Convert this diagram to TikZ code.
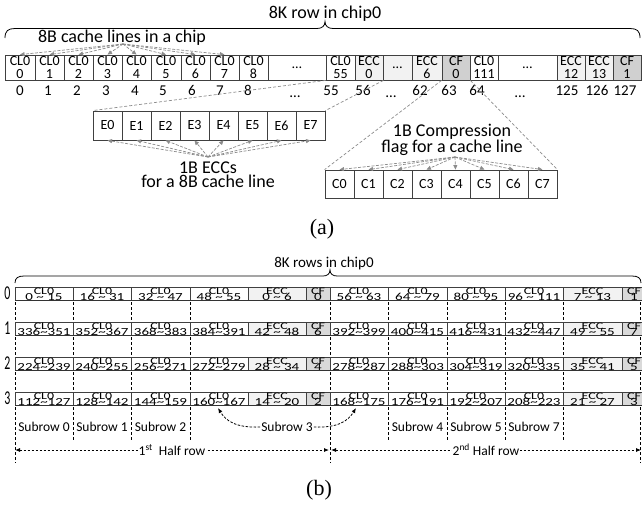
\documentclass[tikz,border=0pt]{standalone}
\usepackage{fontspec}
\usepackage{graphicx}
\setmainfont{Carlito}
\newfontfamily\seriffont{Liberation Serif}
\usetikzlibrary{arrows.meta}
\definecolor{eccfill}{HTML}{F2F2F2}
\definecolor{cffill}{HTML}{D9D9D9}
\definecolor{cfafill}{HTML}{D0D0D0}
\definecolor{zoomgray}{HTML}{8C8C8C}
\newcommand\mytilde{\textasciitilde}
\newcommand\sq[1]{\scalebox{1}[0.72]{#1}}
\tikzset{
  acell/.style={draw=black!75, line width=0.8pt, minimum height=25pt, inner sep=0pt, align=center, font=\fontsize{14}{12.5}\selectfont},
  idx/.style={anchor=base, inner sep=0pt, font=\fontsize{15}{15}\selectfont},
  biglab/.style={inner sep=0pt, align=center, font=\fontsize{18}{11}\selectfont},
  bracepath/.style={draw=black, line width=0.8pt},
  zoomline/.style={draw=zoomgray, line width=0.7pt, dash pattern=on 3pt off 2pt},
  garrow/.style={draw=zoomgray, line width=0.7pt, dash pattern=on 3pt off 1.5pt, -{Triangle[length=4.5pt,width=4pt,fill=zoomgray]}},
  bcell/.style={draw=black!75, line width=0.8pt, minimum height=13.5pt, inner sep=0pt},
  btop/.style={anchor=base, inner sep=0pt, font=\fontsize{14}{14}\selectfont},
  bnum/.style={anchor=base, inner sep=0pt, font=\fontsize{15}{15}\selectfont},
  rowlab/.style={inner sep=0pt, font=\fontsize{14}{14}\selectfont},
  sublab/.style={inner sep=1pt, font=\fontsize{13.5}{13.5}\selectfont},
  vdash/.style={draw=black, line width=0.8pt, dash pattern=on 3pt off 2pt},
  bdarrow/.style={draw=black, line width=0.8pt, dash pattern=on 2.5pt off 1.5pt},
  tipb/.style={-{Latex[length=5pt,width=4pt]}},
}
\newcommand\brow[3]{% #1 top y, #2 row label, #3 list of 12 numbers
  \foreach \num [count=\i] in {#3} {
    \pgfmathsetmacro\xl{{15,73,131,190,248,306,330,388,447,505,563,622}[\i-1]}
    \pgfmathsetmacro\xr{{73,131,190,248,306,330,388,447,505,563,622,646}[\i-1]}
    \pgfmathtruncatemacro\kind{mod(\i-1,6)}
    \ifnum\kind<4 \def\up{CL0}\def\fc{white}\else
      \ifnum\kind=4 \def\up{ECC}\def\fc{eccfill}\else \def\up{CF}\def\fc{cffill}\fi\fi
    \node[bcell, fill=\fc, minimum width={(\xr-\xl)*1pt}] (c#2-\i) at ({(\xl+\xr)/2},{#1+6.75}) {};
    \node[btop] (u#2-\i) at ({(\xl+\xr)/2},{#1+7.2}) {\sq{\up}};
    \node[bnum] (v#2-\i) at ({(\xl+\xr)/2},{#1+13}) {\sq{\num}};
  }
  \draw[line width=1.6pt, black!80] (15,{#1+13.5}) -- (646,{#1+13.5});
  \node[rowlab] (rl#2) at (7.5,{#1+6.5}) {\scalebox{0.85}[1.4]{#2}};
}
\begin{document}
\begin{tikzpicture}[x=1pt,y=-1pt]
\useasboundingbox (0,0) rectangle (642,506);
\fill[white] (0,0) rectangle (642,506);

% ---------------- (a) ----------------
\node[idx, font=\fontsize{18}{18}\selectfont] (titleA) at (325,18) {8K row in chip0};
\draw[bracepath] (5,38) .. controls (5,31) and (8,28.5) .. (15,28.5) -- (317,28.5)
  .. controls (322,28.5) and (325,26) .. (325,21.5)
  .. controls (325,26) and (328,28.5) .. (333,28.5) -- (630,28.5)
  .. controls (637,28.5) and (640,31) .. (640,38);
\node[idx, font=\fontsize{18}{18}\selectfont] (cl8) at (122,42) {8B cache lines in a chip};

\foreach \xl/\xr/\txt/\fc [count=\i] in {
5/35/{CL0\\0}/white, 35/64/{CL0\\1}/white, 64/93/{CL0\\2}/white,
93/122/{CL0\\3}/white, 122/151/{CL0\\4}/white, 151/181/{CL0\\5}/white,
181/210/{CL0\\6}/white, 210/239/{CL0\\7}/white, 239/268/{CL0\\8}/white,
268/326/{\ldots}/white, 326/355/{CL0\\55}/white, 355/383/{ECC\\0}/eccfill,
383/412/{\ldots}/eccfill, 412/442/{ECC\\6}/eccfill, 442/470/{CF\\0}/cfafill,
470/498/{CL0\\111}/white, 498/557/{\ldots}/white, 557/585/{ECC\\12}/eccfill,
585/613/{ECC\\13}/eccfill, 613/641/{CF\\1}/cfafill}
  \node[acell, fill=\fc, minimum width={(\xr-\xl)*1pt}] (a\i) at ({(\xl+\xr)/2},67.5) {\txt};

\foreach \x/\txt [count=\i] in {20/0,48/1,77/2,106/3,135/4,163/5,192/6,220/7,248/8,
  331/55,363/56,420/62,449/63,477/64,567/125,597/126,625/127}
  \node[idx] (n\i) at (\x,95) {\txt};
\node[idx] (nd1) at (295,97) {\ldots};
\node[idx] (nd2) at (391,97) {\ldots};
\node[idx] (nd3) at (520,97) {\ldots};

\coordinate (srcA) at (123,44);
\foreach \k in {1,...,8} \draw[garrow] (srcA) -- (a\k.north);

% ECC box
\foreach \k in {0,...,7}
  \node[acell, minimum width=29pt, minimum height=29pt] (e\k) at ({107.5+29*\k},125.5) {E\k};
\node[biglab] (ecclab) at (208,174.7) {1B ECCs\\for a 8B cache line};
\coordinate (srcE) at (208,157);
\foreach \k in {0,...,7} \draw[garrow] (srcE) -- (e\k.south);

% CF box
\foreach \k in {0,...,7}
  \node[acell, minimum width=29pt, minimum height=28pt] (f\k) at ({339.5+29*\k},184) {C\k};
\node[biglab, font=\fontsize{18}{12}\selectfont] (cflab) at (452,140) {1B Compression\\flag for a cache line};
\coordinate (srcC) at (455,157);
\foreach \k in {0,...,7} \draw[garrow] (srcC) -- (f\k.north);

% zoom lines
\draw[zoomline] (a11.south west) -- (e0.north west);
\draw[zoomline] (a12.south east) -- (e7.north east);
\draw[zoomline] (a15.south west) -- (f0.north west);
\draw[zoomline] (a15.south east) -- (f7.north east);

\node[inner sep=0pt, font=\seriffont\fontsize{22}{22}\selectfont] (capa) at (322,229) {(a)};

% ---------------- (b) ----------------
\node[idx] (titleB) at (324,267) {8K rows in chip0};
\draw[bracepath] (15,283) .. controls (15,278) and (18,276) .. (24,276) -- (323,276)
  .. controls (327,276) and (330,274) .. (330,270)
  .. controls (330,274) and (333,276) .. (337,276) -- (632,276)
  .. controls (638,276) and (641,278) .. (641,283);

\foreach \x in {15,330,640} \draw[vdash] (\x,287) -- (\x,463);
\foreach \x in {73,131,190,388,447,505,563} \draw[vdash] (\x,287) -- (\x,440);

\brow{287}{0}{{0 \mytilde{} 15},{16 \mytilde{} 31},{32 \mytilde{} 47},{48 \mytilde{} 55},{0 \mytilde{} 6},0,
  {56 \mytilde{} 63},{64 \mytilde{} 79},{80 \mytilde{} 95},{96 \mytilde{} 111},{7 \mytilde{} 13},1}
\brow{322}{1}{336\mytilde351,352\mytilde367,368\mytilde383,384\mytilde391,{42 \mytilde{} 48},6,
  392\mytilde399,400\mytilde415,416\mytilde431,432\mytilde447,{49 \mytilde{} 55},7}
\brow{357}{2}{224\mytilde239,240\mytilde255,256\mytilde271,272\mytilde279,{28 \mytilde{} 34},4,
  278\mytilde287,288\mytilde303,304\mytilde319,320\mytilde335,{35 \mytilde{} 41},5}
\brow{392}{3}{112\mytilde127,128\mytilde142,144\mytilde159,160\mytilde167,{14 \mytilde{} 20},2,
  168\mytilde175,176\mytilde191,192\mytilde207,208\mytilde223,{21 \mytilde{} 27},3}

\node[sublab] (s0) at (44,427) {Subrow 0};
\node[sublab] (s1) at (102,427) {Subrow 1};
\node[sublab] (s2) at (160.5,427) {Subrow 2};
\node[sublab] (s3) at (287,427) {Subrow 3};
\node[sublab] (s4) at (417.5,427) {Subrow 4};
\node[sublab] (s5) at (476,427) {Subrow 5};
\node[sublab] (s7) at (534,427) {Subrow 7};
\coordinate (t3a) at (218,408);
\coordinate (t3b) at (356,408);
\draw[bdarrow, tipb] (s3.west) .. controls (236,428) and (226,421) .. (t3a);
\draw[bdarrow, tipb] (s3.east) .. controls (338,428) and (348,421) .. (t3b);

\coordinate (h1l) at (15,450);
\coordinate (h1r) at (329,450);
\coordinate (h2l) at (331,450);
\coordinate (h2r) at (641,450);
\draw[bdarrow, {Latex[length=5pt,width=4pt]}-{Latex[length=5pt,width=4pt]}] (h1l) -- (h1r);
\draw[bdarrow, {Latex[length=5pt,width=4pt]}-{Latex[length=5pt,width=4pt]}] (h2l) -- (h2r);
\node[sublab, fill=white] (hr1) at (172,450) {1\textsuperscript{st}\ \ Half row};
\node[sublab, fill=white] (hr2) at (486,450) {2\textsuperscript{nd}\ Half row};

\node[inner sep=0pt, font=\seriffont\fontsize{22}{22}\selectfont] (capb) at (319,490) {(b)};
\end{tikzpicture}
\end{document}
